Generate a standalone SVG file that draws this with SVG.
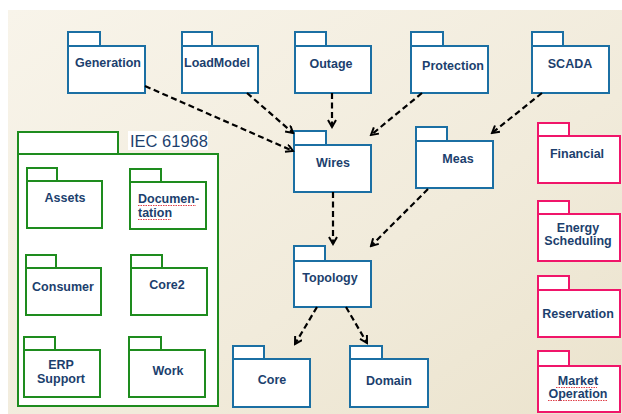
<svg xmlns="http://www.w3.org/2000/svg" width="622" height="414" viewBox="0 0 622 414">
  <defs>
    <linearGradient id="bg" x1="0" y1="0" x2="1" y2="1">
      <stop offset="0" stop-color="#f8f4ea"/>
      <stop offset="0.6" stop-color="#f1ebdb"/>
      <stop offset="1" stop-color="#ebe3cd"/>
    </linearGradient>
    <marker id="open" markerWidth="10" markerHeight="10" refX="8" refY="4.5" orient="auto" markerUnits="userSpaceOnUse">
      <path d="M1,0.5 L8,4.5 L1,8.5" fill="none" stroke="#000" stroke-width="2"/>
    </marker>
  </defs>
  <style>
    .pk rect { fill: #fff; stroke-width: 2; }
    .blue rect { stroke: #1b6fa3; }
    .green rect { stroke: #1e8c1e; }
    .pink rect { stroke: #f0156a; }
    .lbl { font-family: "Liberation Sans", Arial, sans-serif; font-weight: bold; font-size: 12.5px; fill: #1c3f6e; text-anchor: middle; }
    .title { font-family: "Liberation Sans", Arial, sans-serif; font-size: 16.5px; fill: #1c3f6e; }
    .dep { fill: none; stroke: #000; stroke-width: 2.2; stroke-dasharray: 6 3.5; marker-end: url(#open); }
    .spell { fill: none; stroke: #e0404a; stroke-width: 1; stroke-dasharray: 1.5 1; }
  </style>

  <rect x="8" y="10" width="614" height="404" fill="url(#bg)"/>

  <!-- top row -->
  <g id="generation" class="pk blue">
    <rect x="68" y="32" width="32" height="14"/>
    <rect x="68" y="46" width="77" height="47"/>
    <text class="lbl" x="108" y="67">Generation</text>
  </g>
  <g id="loadmodel" class="pk blue">
    <rect x="182" y="32" width="30" height="14"/>
    <rect x="182" y="46" width="76" height="47"/>
    <text class="lbl" x="217" y="67">LoadModel</text>
  </g>
  <g id="outage" class="pk blue">
    <rect x="295" y="32" width="31" height="14"/>
    <rect x="295" y="46" width="76" height="47"/>
    <text class="lbl" x="331" y="68">Outage</text>
  </g>
  <g id="protection" class="pk blue">
    <rect x="411" y="32" width="32" height="14"/>
    <rect x="411" y="46" width="77" height="47"/>
    <text class="lbl" x="453" y="70">Protection</text>
  </g>
  <g id="scada" class="pk blue">
    <rect x="532" y="32" width="31" height="14"/>
    <rect x="532" y="46" width="77" height="47"/>
    <text class="lbl" x="570" y="68">SCADA</text>
  </g>

  <!-- middle column -->
  <g id="wires" class="pk blue">
    <rect x="294" y="131" width="32" height="14"/>
    <rect x="294" y="145" width="77" height="47"/>
    <text class="lbl" x="333" y="167">Wires</text>
  </g>
  <g id="meas" class="pk blue">
    <rect x="416" y="127" width="31" height="14"/>
    <rect x="416" y="141" width="77" height="47"/>
    <text class="lbl" x="458" y="163">Meas</text>
  </g>
  <g id="topology" class="pk blue">
    <rect x="294" y="246" width="31" height="15"/>
    <rect x="294" y="261" width="77" height="46"/>
    <text class="lbl" x="330" y="282">Topology</text>
  </g>
  <g id="core" class="pk blue">
    <rect x="233" y="346" width="31" height="13"/>
    <rect x="233" y="359" width="77" height="48"/>
    <text class="lbl" x="272" y="384">Core</text>
  </g>
  <g id="domain" class="pk blue">
    <rect x="350" y="346" width="32" height="13"/>
    <rect x="350" y="359" width="78" height="48"/>
    <text class="lbl" x="389" y="385">Domain</text>
  </g>

  <!-- IEC 61968 container -->
  <g id="iec61968" class="pk green">
    <rect x="18" y="132" width="100" height="22"/>
    <rect x="18" y="154" width="200" height="252"/>
    <rect x="128" y="131" width="80" height="19" style="stroke:none"/>
    <text class="title" x="130" y="147">IEC 61968</text>
  </g>
  <g id="assets" class="pk green">
    <rect x="27" y="168" width="30" height="13"/>
    <rect x="27" y="181" width="75" height="47"/>
    <text class="lbl" x="65" y="202">Assets</text>
  </g>
  <g id="documentation" class="pk green">
    <rect x="130" y="169" width="31" height="13"/>
    <rect x="130" y="182" width="76" height="47"/>
    <text class="lbl" x="138" y="203" style="text-anchor:start">Documen-</text>
    <text class="lbl" x="138" y="217" style="text-anchor:start">tation</text>
    <path class="spell" d="M138,205.5 H196 M138,219.5 H171"/>
  </g>
  <g id="consumer" class="pk green">
    <rect x="26" y="255" width="30" height="13"/>
    <rect x="26" y="268" width="75" height="47"/>
    <text class="lbl" x="63" y="291">Consumer</text>
  </g>
  <g id="core2" class="pk green">
    <rect x="131" y="255" width="31" height="13"/>
    <rect x="131" y="268" width="76" height="47"/>
    <text class="lbl" x="167" y="289">Core2</text>
  </g>
  <g id="erp-support" class="pk green">
    <rect x="24" y="337" width="31" height="13"/>
    <rect x="24" y="350" width="76" height="47"/>
    <text class="lbl" x="61" y="369">ERP</text>
    <text class="lbl" x="61" y="383">Support</text>
  </g>
  <g id="work" class="pk green">
    <rect x="129" y="337" width="32" height="13"/>
    <rect x="129" y="350" width="76" height="47"/>
    <text class="lbl" x="168" y="375">Work</text>
  </g>

  <!-- right column -->
  <g id="financial" class="pk pink">
    <rect x="538" y="123" width="31" height="13"/>
    <rect x="538" y="136" width="82" height="47"/>
    <text class="lbl" x="577" y="158">Financial</text>
  </g>
  <g id="energy-scheduling" class="pk pink">
    <rect x="538" y="201" width="31" height="13"/>
    <rect x="538" y="214" width="82" height="47"/>
    <text class="lbl" x="578" y="232">Energy</text>
    <text class="lbl" x="578" y="245">Scheduling</text>
  </g>
  <g id="reservation" class="pk pink">
    <rect x="538" y="276" width="31" height="14"/>
    <rect x="538" y="290" width="82" height="47"/>
    <text class="lbl" x="578" y="318">Reservation</text>
  </g>
  <g id="market-operation" class="pk pink">
    <rect x="538" y="351" width="31" height="15"/>
    <rect x="538" y="366" width="82" height="46"/>
    <text class="lbl" x="578" y="385">Market</text>
    <text class="lbl" x="578" y="398">Operation</text>
    <path class="spell" d="M556,387.5 H597 M548,400.5 H607"/>
  </g>

  <!-- dependencies -->
  <g id="connectors">
    <line class="dep" x1="145" y1="86" x2="293" y2="151"/>
    <line class="dep" x1="247" y1="93" x2="293" y2="133"/>
    <line class="dep" x1="332" y1="93" x2="332" y2="127"/>
    <line class="dep" x1="422" y1="93" x2="371" y2="135"/>
    <line class="dep" x1="542" y1="93" x2="492" y2="133"/>
    <line class="dep" x1="333" y1="192" x2="333" y2="244"/>
    <line class="dep" x1="428" y1="189" x2="371" y2="246"/>
    <line class="dep" x1="317" y1="307" x2="295" y2="344"/>
    <line class="dep" x1="346" y1="307" x2="367" y2="343"/>
  </g>
</svg>
